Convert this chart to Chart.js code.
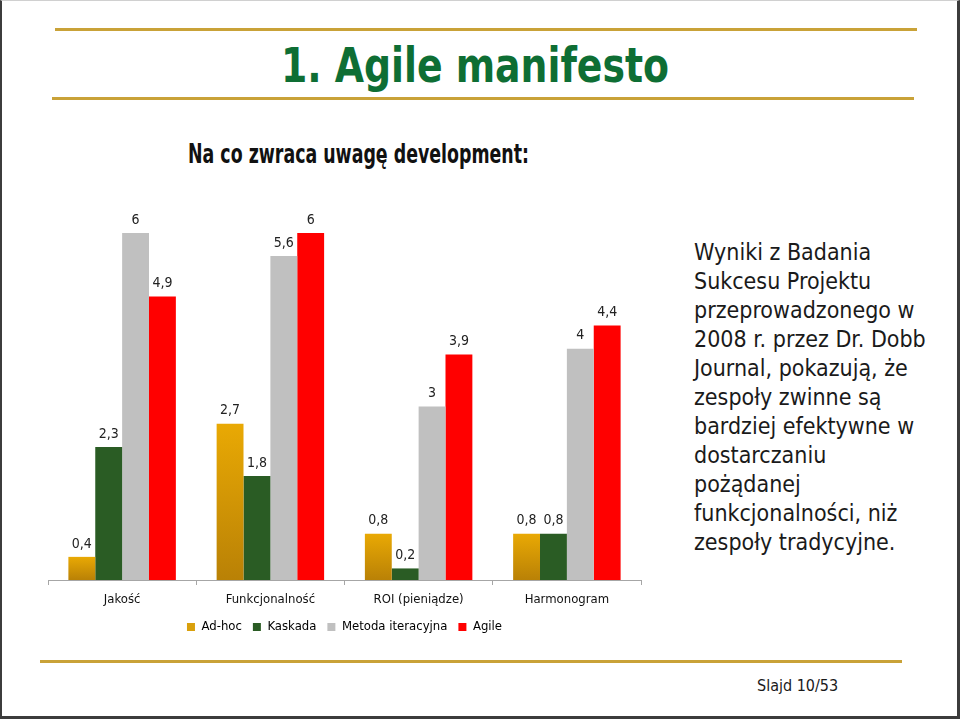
<!DOCTYPE html>
<html>
<head>
<meta charset="utf-8">
<script src="https://cdn.jsdelivr.net/npm/chart.js@4/dist/chart.umd.min.js"></script>
<style>
  html, body { margin: 0; padding: 0; background: #fff; }
  #slide { position: relative; width: 960px; height: 719px; box-sizing: border-box;
    border-left: 2px solid #3c3c3c; border-right: 3px solid #3c3c3c; border-bottom: 3px solid #3c3c3c; border-top: 1px solid #d0d0d0; overflow: hidden; }
  .gline { position: absolute; height: 3px; background: #c9a238; }
  .abs { position: absolute; white-space: nowrap; transform-origin: 0 0; }
  #title { left: 279px; top: 36px; font-family: "DejaVu Sans Condensed", "DejaVu Sans", sans-serif; font-weight: bold; font-size: 48px; color: #0e6e34; line-height: 56px; }
  #subtitle { left: 186px; top: 138px; font-family: "DejaVu Sans Condensed", "DejaVu Sans", sans-serif; font-weight: bold; font-size: 26px; color: #111; line-height: 30px; }
  #note { left: 692px; top: 237px; font-family: "DejaVu Sans Condensed", "DejaVu Sans", sans-serif; font-size: 23px; line-height: 29px; color: #1a1a1a; }
  #slideno { left: 755px; top: 675px; font-family: "DejaVu Sans Condensed", "DejaVu Sans", sans-serif; font-size: 16px; color: #1a1a1a; }
  #chartWrap { position: absolute; left: -2px; top: 199px; width: 662px; height: 445px; }
</style>
</head>
<body>
<div id="slide">
  <div class="gline" style="left:53px; width:862px; top:27px;"></div>
  <div class="gline" style="left:50px; width:862px; top:96px;"></div>
  <div class="gline" style="left:38px; width:862px; top:659px;"></div>
  <div id="title" class="abs">1. Agile manifesto</div>
  <div id="subtitle" class="abs">Na co zwraca uwagę development:</div>
  <div id="note" class="abs">Wyniki z Badania<br>Sukcesu Projektu<br>przeprowadzonego w<br>2008 r. przez Dr. Dobb<br>Journal, pokazują, że<br>zespoły zwinne są<br>bardziej efektywne w<br>dostarczaniu<br>pożądanej<br>funkcjonalności, niż<br>zespoły tradycyjne.</div>
  <div id="slideno" class="abs">Slajd 10/53</div>
  <div id="chartWrap"><canvas id="c" width="662" height="445"></canvas></div>
</div>
<script>
const categories = ["Jakość", "Funkcjonalność", "ROI (pieniądze)", "Harmonogram"];
const seriesNames = ["Ad-hoc", "Kaskada", "Metoda iteracyjna", "Agile"];
const adhoc = [0.4, 2.7, 0.8, 0.8];
const kaskada = [2.3, 1.8, 0.2, 0.8];
const iteracyjna = [6, 5.6, 3, 4];
const agile = [4.9, 6, 3.9, 4.4];
const seriesColors = ["#d9a00c", "#2a5c24", "#c0c0c0", "#ff0000"];

function fitWidth(id, target) {
  const el = document.getElementById(id);
  const w = el.getBoundingClientRect().width;
  if (w > 0) el.style.transform = 'scaleX(' + (target / w) + ')';
}
fitWidth('title', 388);
fitWidth('subtitle', 341);

function adhocFill(ctx) {
  const chart = ctx.chart;
  if (ctx.type !== 'data' || !chart.chartArea || !chart.scales.y) return seriesColors[0];
  const y = chart.scales.y;
  const top = y.getPixelForValue(ctx.raw);
  const bottom = y.getPixelForValue(0);
  if (!isFinite(top) || bottom - top < 1) return seriesColors[0];
  const g = chart.ctx.createLinearGradient(0, top, 0, bottom);
  g.addColorStop(0, "#e9a904");
  g.addColorStop(1, "#b98106");
  return g;
}

const valueLabels = {
  id: 'valueLabels',
  afterDatasetsDraw(chart) {
    const c = chart.ctx;
    c.save();
    c.font = '14px "DejaVu Sans Condensed", "DejaVu Sans", sans-serif';
    c.fillStyle = '#222';
    c.textAlign = 'center';
    c.textBaseline = 'bottom';
    chart.data.datasets.forEach((ds, di) => {
      const meta = chart.getDatasetMeta(di);
      meta.data.forEach((bar, i) => {
        const txt = String(ds.data[i]).replace('.', ',');
        c.fillText(txt, bar.x, bar.y - 6);
      });
    });
    c.restore();
  }
};

new Chart(document.getElementById('c'), {
  type: 'bar',
  data: {
    labels: categories,
    datasets: [
      { label: seriesNames[0], data: adhoc, backgroundColor: adhocFill },
      { label: seriesNames[1], data: kaskada, backgroundColor: seriesColors[1] },
      { label: seriesNames[2], data: iteracyjna, backgroundColor: seriesColors[2] },
      { label: seriesNames[3], data: agile, backgroundColor: seriesColors[3] }
    ]
  },
  options: {
    responsive: false,
    animation: false,
    devicePixelRatio: 1,
    layout: { padding: { left: 48, right: 21, top: 11, bottom: 1.5 } },
    datasets: { bar: { categoryPercentage: 0.725, barPercentage: 1.0, borderWidth: 0 } },
    scales: {
      x: {
        offset: true,
        grid: { offset: true, drawOnChartArea: false, drawTicks: true, tickLength: 5, color: '#a6a6a6' },
        border: { display: true, color: '#a6a6a6', width: 1 },
        ticks: { color: '#111', padding: 7, font: { family: '"DejaVu Sans Condensed", "DejaVu Sans", sans-serif', size: 13 } },
        afterFit(scale) { scale.height = 29.5; }
      },
      y: { display: false, min: 0, max: 6.38 }
    },
    plugins: {
      tooltip: { enabled: false },
      legend: {
        position: 'bottom',
        labels: {
          boxWidth: 8, boxHeight: 8, padding: 11, color: '#111',
          font: { family: '"DejaVu Sans Condensed", "DejaVu Sans", sans-serif', size: 13 },
          generateLabels(chart) {
            return chart.data.datasets.map((ds, i) => ({
              text: ds.label, fillStyle: seriesColors[i], strokeStyle: seriesColors[i], lineWidth: 0, datasetIndex: i, hidden: false
            }));
          }
        }
      }
    }
  },
  plugins: [valueLabels]
});
</script>
</body>
</html>
